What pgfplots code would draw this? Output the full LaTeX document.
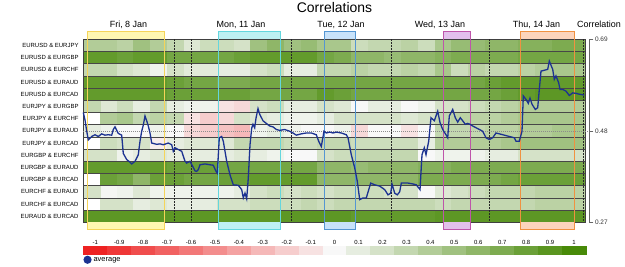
\documentclass[border=0pt]{standalone}
\usepackage{fontspec}
\setmainfont{Liberation Sans}
\usepackage{pgfplots}
\pgfplotsset{compat=1.18}
\definecolor{avgblue}{RGB}{28,50,145}
\definecolor{friL}{RGB}{245,212,90}\definecolor{friF}{RGB}{255,247,178}
\definecolor{monL}{RGB}{100,214,222}\definecolor{monF}{RGB}{190,240,243}
\definecolor{tueL}{RGB}{85,150,210}\definecolor{tueF}{RGB}{200,226,250}
\definecolor{wedL}{RGB}{190,85,170}\definecolor{wedF}{RGB}{226,192,236}
\definecolor{thuL}{RGB}{240,145,65}\definecolor{thuF}{RGB}{252,212,188}
\pgfplotsset{colormap={rg}{rgb255(0cm)=(238,34,34) rgb255(1cm)=(248,248,248) rgb255(2cm)=(72,138,8)},
  heat/.style={at={(83.3bp,-222.3bp)}, anchor=south west, scale only axis,
  width=502bp, height=183bp, xmin=0, xmax=502, ymin=0, ymax=15, y dir=reverse,
  clip=false, colormap name=rg, point meta min=-1, point meta max=1}}
\begin{document}
\begin{tikzpicture}
\useasboundingbox (0bp,0bp) rectangle (625bp,-267bp);
% ---------------- heatmap cells ----------------
\begin{axis}[heat, hide axis]
\addplot[scatter, only marks, mark=square*, mark size=6.1bp, point meta=explicit,
  scatter/use mapped color={draw=mapped color, fill=mapped color},
  mark options={xscale=1.3716, line width=0.4bp}]
 table[row sep=\\, meta=c, x expr={mod(\coordindex,30)*16.7333+8.3667}, y expr={floor(\coordindex/30)+0.5}] {
c\\
0.4\\0.4\\0.35\\0.5\\0.4\\0.3\\0.15\\0.25\\0.25\\0.2\\0.5\\0.6\\0.5\\0.55\\0.45\\0.45\\0.25\\0.3\\0.3\\0.35\\0.25\\0.45\\0.55\\0.55\\0.6\\0.6\\0.65\\0.65\\0.7\\0.7\\
0.85\\0.85\\0.8\\0.85\\0.85\\0.75\\0.75\\0.75\\0.75\\0.8\\0.85\\0.85\\0.85\\0.85\\0.75\\0.7\\0.6\\0.6\\0.55\\0.6\\0.6\\0.65\\0.7\\0.7\\0.7\\0.7\\0.75\\0.75\\0.75\\0.75\\
0.3\\0.3\\0.2\\0.15\\0.05\\0.2\\0.12\\0.12\\0.1\\0.1\\0.2\\0.25\\0.1\\0.1\\0.3\\0.3\\0.35\\0.3\\0.3\\0.35\\0.3\\0.45\\0.25\\0.35\\0.3\\0.3\\0.35\\0.4\\0.45\\0.45\\
0.85\\0.85\\0.85\\0.85\\0.85\\0.8\\0.75\\0.75\\0.7\\0.7\\0.75\\0.75\\0.75\\0.75\\0.75\\0.75\\0.75\\0.75\\0.75\\0.75\\0.75\\0.75\\0.75\\0.75\\0.8\\0.85\\0.85\\0.85\\0.85\\0.85\\
0.85\\0.85\\0.85\\0.85\\0.85\\0.8\\0.8\\0.8\\0.8\\0.8\\0.75\\0.75\\0.75\\0.75\\0.85\\0.8\\0.75\\0.75\\0.75\\0.75\\0.75\\0.75\\0.75\\0.75\\0.75\\0.8\\0.85\\0.88\\0.88\\0.88\\
0.1\\0.15\\0.25\\0.1\\0.3\\0.1\\0.05\\0.05\\-0.1\\-0.15\\0.2\\0.25\\0.1\\0.1\\0.2\\0.15\\0\\0.1\\0.1\\0\\0.05\\0.2\\0.2\\0.25\\0.3\\0.35\\0.4\\0.4\\0.4\\0.4\\
0.3\\0.4\\0.45\\0.3\\0.35\\0.3\\-0.1\\-0.2\\-0.15\\0.2\\0.15\\0.1\\0.05\\0.05\\0.1\\0.2\\0.2\\0.2\\0.2\\0.15\\0.2\\0.3\\0.35\\0.35\\0.35\\0.4\\0.45\\0.45\\0.45\\0.45\\
0.05\\0.05\\0\\0\\0.05\\0\\-0.15\\-0.2\\-0.25\\-0.3\\0.05\\0.1\\0.05\\0\\0\\0.05\\-0.15\\0\\0\\-0.1\\0\\0.3\\0.3\\0.3\\0.35\\0.35\\0.4\\0.4\\0.45\\0.45\\
0.1\\0.25\\0.2\\0.2\\-0.05\\0.1\\0.15\\0.15\\0.15\\0.3\\0.3\\0.3\\0.25\\0.25\\0.3\\0.3\\0.25\\0.25\\0.25\\0.25\\0.1\\0.4\\0.4\\0.4\\0.4\\0.45\\0.5\\0.5\\0.5\\0.5\\
0.2\\0.2\\0.05\\0.1\\0.15\\0.1\\0.1\\0.1\\0.1\\0.15\\0.1\\0.05\\0\\0\\0.2\\0.25\\0.3\\0.3\\0.3\\0.3\\0\\0.05\\0.05\\0.05\\0.1\\0.1\\0.2\\0.2\\0.2\\0.2\\
0.85\\0.85\\0.85\\0.85\\0.85\\0.8\\0.8\\0.8\\0.75\\0.75\\0.75\\0.75\\0.75\\0.75\\0.6\\0.6\\0.55\\0.6\\0.6\\0.6\\0.65\\0.65\\0.7\\0.7\\0.7\\0.7\\0.7\\0.7\\0.7\\0.7\\
0.85\\0.8\\0.75\\0.6\\0.8\\0.8\\0.75\\0.75\\0.8\\0.8\\0.85\\0.85\\0.85\\0.85\\0.6\\0.6\\0.6\\0.6\\0.6\\0.6\\0.7\\0.7\\0.7\\0.7\\0.7\\0.75\\0.8\\0.8\\0.8\\0.8\\
0.02\\0.02\\0.05\\0.15\\0.05\\0.05\\0.05\\0.05\\0.05\\0.1\\0.2\\0.25\\0.2\\0.25\\0.2\\0.25\\0.25\\0.25\\0.2\\0.2\\0\\0.15\\0.2\\0.25\\0.3\\0.3\\0.3\\0.35\\0.35\\0.35\\
0.2\\0.2\\0.2\\0.1\\0.15\\0.1\\0.1\\0.1\\0.2\\0.2\\0.25\\0.25\\0.25\\0.3\\0.25\\0.3\\0.3\\0.3\\0.3\\0.3\\0.3\\0.25\\0.3\\0.3\\0.3\\0.3\\0.3\\0.35\\0.35\\0.35\\
0.88\\0.88\\0.88\\0.88\\0.88\\0.88\\0.88\\0.88\\0.88\\0.88\\0.88\\0.88\\0.88\\0.88\\0.88\\0.88\\0.85\\0.85\\0.85\\0.85\\0.85\\0.88\\0.88\\0.88\\0.88\\0.88\\0.88\\0.88\\0.88\\0.88\\
};
\end{axis}
% ---------------- row lines, day boxes, labels ----------------
\begin{axis}[heat,
  xtick=\empty, ytick={0.5,1.5,...,14.5}, major tick length=0,
  yticklabels={EURUSD \& EURJPY,EURUSD \& EURGBP,EURUSD \& EURCHF,EURUSD \& EURAUD,EURUSD \& EURCAD,EURJPY \& EURGBP,EURJPY \& EURCHF,EURJPY \& EURAUD,EURJPY \& EURCAD,EURGBP \& EURCHF,EURGBP \& EURAUD,EURGBP \& EURCAD,EURCHF \& EURAUD,EURCHF \& EURCAD,EURAUD \& EURCAD},
  yticklabel style={font=\fontsize{6}{7}\selectfont, inner sep=0pt, xshift=-4.6bp},
  axis line style={black!75, line width=0.7bp}]
\pgfplotsinvokeforeach{1,...,14}{\draw[black!72, line width=0.7bp] (axis cs:0,#1) -- (axis cs:502,#1);}
\pgfplotsinvokeforeach{91.4,108,208,308,405.7,500.4}{\draw[black!85, line width=0.6bp, dash pattern=on 1.5bp off 1.5bp] (axis cs:#1,0) -- (axis cs:#1,15);}
\fill[friF] (axis cs:4,-0.62) rectangle (axis cs:81,0); \fill[friF] (axis cs:4,15) rectangle (axis cs:81,15.57);
\draw[friL, line width=0.9bp] (axis cs:4,-0.62) rectangle (axis cs:81,15.57);
\fill[monF] (axis cs:135,-0.62) rectangle (axis cs:197.4,0); \fill[monF] (axis cs:135,15) rectangle (axis cs:197.4,15.57);
\draw[monL, line width=0.9bp] (axis cs:135,-0.62) rectangle (axis cs:197.4,15.57);
\fill[tueF] (axis cs:241,-0.62) rectangle (axis cs:272,0); \fill[tueF] (axis cs:241,15) rectangle (axis cs:272,15.57);
\draw[tueL, line width=0.9bp] (axis cs:241,-0.62) rectangle (axis cs:272,15.57);
\fill[wedF] (axis cs:360,-0.62) rectangle (axis cs:387,0); \fill[wedF] (axis cs:360,15) rectangle (axis cs:387,15.57);
\draw[wedL, line width=0.9bp] (axis cs:360,-0.62) rectangle (axis cs:387,15.57);
\fill[thuF] (axis cs:437,-0.62) rectangle (axis cs:491.4,0); \fill[thuF] (axis cs:437,15) rectangle (axis cs:491.4,15.57);
\draw[thuL, line width=0.9bp] (axis cs:437,-0.62) rectangle (axis cs:491.4,15.57);
\end{axis}
% ---------------- colour scale ----------------
\begin{axis}[at={(83.3bp,-254bp)}, anchor=south west, scale only axis, axis on top,
  width=502.7bp, height=8bp, xmin=-1.05, xmax=1.05, ymin=-0.5, ymax=1.5,
  colormap name=rg, point meta min=-1, point meta max=1,
  xtick={-1,-0.9,-0.8,-0.7,-0.6,-0.5,-0.4,-0.3,-0.2,-0.1,0,0.1,0.2,0.3,0.4,0.5,0.6,0.7,0.8,0.9,1},
  xticklabels={-1,-0.9,-0.8,-0.7,-0.6,-0.5,-0.4,-0.3,-0.2,-0.1,0,0.1,0.2,0.3,0.4,0.5,0.6,0.7,0.8,0.9,1},
  xticklabel pos=upper, ytick=\empty, major tick length=0,
  xticklabel style={font=\fontsize{6}{7}\selectfont, inner sep=1.5bp},
  axis line style={black!50, line width=0.6bp}]
\addplot[scatter, only marks, mark=square*, mark size=4bp, point meta=explicit,
  scatter/use mapped color={draw=mapped color, fill=mapped color},
  mark options={xscale=2.9923, line width=0.3bp}]
 table[row sep=\\, x=v, meta=v, y expr=0.5] {
v\\
-1\\-0.9\\-0.8\\-0.7\\-0.6\\-0.5\\-0.4\\-0.3\\-0.2\\-0.1\\0\\0.1\\0.2\\0.3\\0.4\\0.5\\0.6\\0.7\\0.8\\0.9\\1\\
};
\end{axis}
% ---------------- average line ----------------
\begin{axis}[at={(83.3bp,-222.3bp)}, anchor=south west, scale only axis,
  width=506bp, height=183bp, xmin=0, xmax=506, ymin=0.27, ymax=0.69,
  axis x line=none, axis y line*=right, clip=false,
  ytick={0.27,0.48,0.69}, yticklabels={0.27,0.48,0.69},
  tick align=outside, major tick length=4bp,
  yticklabel style={font=\fontsize{6.5}{7}\selectfont, black!80, inner sep=1.5bp},
  axis line style={-, black!60, line width=0.6bp}, tick style={black!60, line width=0.6bp},
  legend style={at={(axis description cs:0,0)}, anchor=north west, xshift=0bp, yshift=-32.5bp,
    draw=none, fill=none, inner sep=0pt, font=\fontsize{7.5}{9}\selectfont},
  legend cell align=left,
  legend image code/.code={\fill (0bp,0bp) circle (3.4bp);}]
\draw[black!45, line width=0.6bp, dash pattern=on 1bp off 1bp] (axis cs:0,0.48) -- (axis cs:506,0.48);
\addplot[avgblue, line width=1.3bp, mark=none] coordinates {
(0,0.522) (1.7,0.505) (3.2,0.482) (5,0.459) (8.4,0.467) (11.7,0.471) (15,0.467) (18.4,0.473) (21.7,0.470) (25,0.471) (28.4,0.470) (30,0.483) (31.7,0.489) (33.7,0.480) (35,0.474) (38.4,0.470) (40,0.428) (43.4,0.414) (46.7,0.408) (48.4,0.404) (51.7,0.410) (55,0.425) (56.7,0.456) (58.4,0.479) (60,0.493) (61.7,0.514) (63.4,0.503) (65,0.491) (66.7,0.475) (68.4,0.452) (73.4,0.449) (76.7,0.450) (80,0.448) (85,0.452) (88.4,0.448) (90,0.433) (91.7,0.441) (95,0.437) (98.4,0.433) (101.7,0.410) (103.4,0.406) (106.7,0.410) (110,0.396) (111.7,0.388) (113.4,0.387) (115,0.391) (116.7,0.402) (121.7,0.404) (126.7,0.402) (130,0.401) (132.7,0.387) (134,0.383) (136,0.464) (138.4,0.467) (140,0.456) (143.4,0.410) (146.7,0.379) (150,0.356) (155,0.355) (158.4,0.345) (160,0.326) (161.7,0.337) (163.4,0.324) (165,0.372) (166.7,0.448) (168.4,0.486) (169.7,0.495) (171.4,0.487) (172.7,0.509) (174.7,0.531) (176.4,0.518) (179.7,0.503) (183,0.497) (186.4,0.491) (189.7,0.489) (193,0.483) (196.4,0.481) (201.4,0.483) (206.4,0.479) (209.7,0.475) (213,0.470) (218,0.473) (223,0.475) (228,0.475) (233,0.471) (235.4,0.456) (238,0.444) (240.7,0.479) (243,0.475) (246.4,0.477) (249.7,0.475) (253,0.477) (258,0.475) (263,0.471) (264.7,0.464) (268,0.425) (271.4,0.395) (274,0.364) (276.4,0.322) (279.7,0.326) (283,0.326) (287.4,0.360) (291.4,0.356) (296.4,0.353) (301.4,0.345) (304.7,0.333) (307.4,0.337) (308.7,0.358) (311.4,0.337) (314,0.333) (316.4,0.340) (318,0.360) (321.4,0.360) (324.7,0.360) (329.7,0.358) (333,0.356) (336.7,0.345) (338.7,0.425) (341,0.441) (342.7,0.425) (345.4,0.456) (347.7,0.510) (351,0.503) (354.4,0.525) (356.7,0.499) (359.4,0.483) (361,0.477) (362.7,0.471) (364.4,0.464) (366,0.514) (369.4,0.529) (372,0.510) (374.4,0.500) (377,0.510) (379.4,0.503) (382,0.495) (384.4,0.497) (386.7,0.495) (389.4,0.491) (394.4,0.485) (399.4,0.479) (402.7,0.464) (406,0.460) (409.4,0.464) (412.7,0.475) (419.4,0.471) (426,0.467) (431,0.464) (432.7,0.456) (436,0.456) (438.7,0.479) (440,0.560) (442.7,0.552) (445,0.543) (446.7,0.555) (448.7,0.541) (452,0.529) (454.4,0.533) (456,0.575) (457.7,0.617) (461,0.619) (464.4,0.621) (466,0.640) (469.4,0.621) (471,0.598) (472.7,0.606) (475.4,0.590) (476.7,0.575) (479.4,0.575) (482.7,0.571) (486,0.561) (489.4,0.567) (492.7,0.566) (496,0.564) (501,0.562)
};
\addlegendentry{average}
\end{axis}
% ---------------- texts ----------------
\node[anchor=base, font=\fontsize{14}{16}\selectfont] at (334.5bp,-12.7bp) {Correlations};
\node[anchor=base, font=\fontsize{9}{10}\selectfont] at (128.5bp,-27bp) {Fri, 8 Jan};
\node[anchor=base, font=\fontsize{9}{10}\selectfont] at (241bp,-27bp) {Mon, 11 Jan};
\node[anchor=base, font=\fontsize{9}{10}\selectfont] at (341bp,-27bp) {Tue, 12 Jan};
\node[anchor=base, font=\fontsize{9}{10}\selectfont] at (440bp,-27bp) {Wed, 13 Jan};
\node[anchor=base, font=\fontsize{9}{10}\selectfont] at (536.5bp,-27bp) {Thu, 14 Jan};
\node[anchor=base, font=\fontsize{9}{10}\selectfont] at (599bp,-27.5bp) {Correlation};
\end{tikzpicture}
\end{document}
